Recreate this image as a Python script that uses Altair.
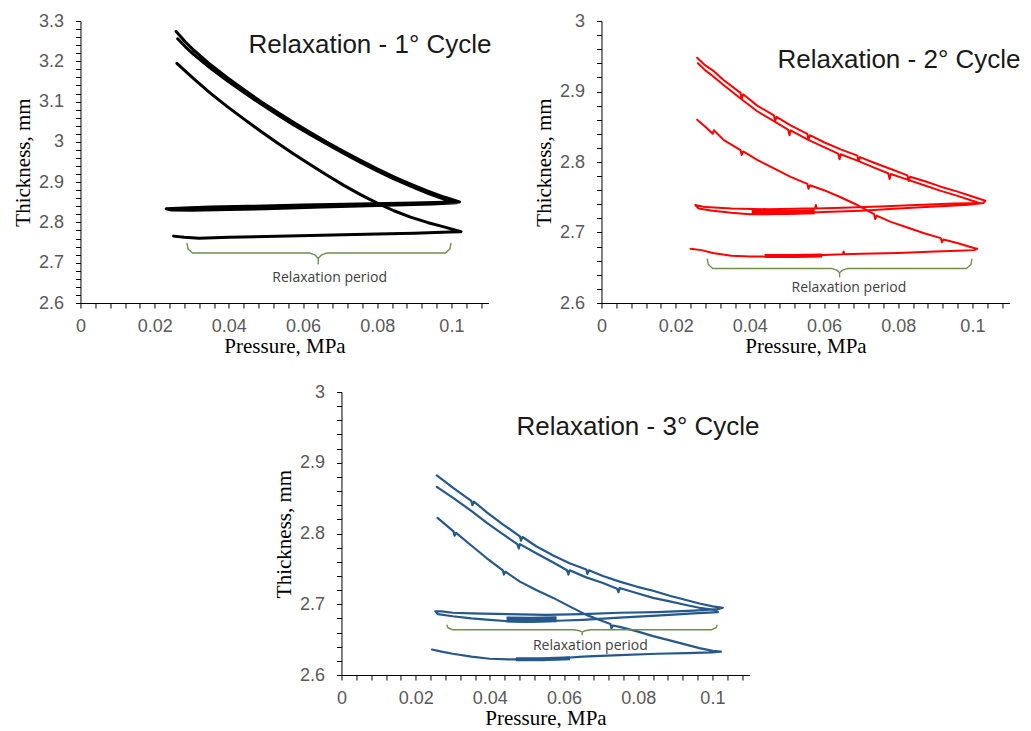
import altair as alt
import pandas as pd

# ---------------- data ----------------
# Cycle 1 (black)
C1_LOAD = [(0.0258, 3.274), (0.0283, 3.248), (0.0305, 3.228), (0.035, 3.192), (0.0395, 3.160),
           (0.044, 3.130), (0.0485, 3.101), (0.053, 3.074), (0.0575, 3.048), (0.062, 3.023),
           (0.0665, 2.999), (0.071, 2.976), (0.0755, 2.954), (0.080, 2.933), (0.0845, 2.913),
           (0.089, 2.895), (0.0935, 2.878), (0.098, 2.863), (0.1022, 2.851)]
C1_RELAX_A = [(0.098, 2.850), (0.090, 2.848), (0.075, 2.846), (0.060, 2.843), (0.045, 2.840),
              (0.035, 2.838), (0.028, 2.836), (0.0231, 2.834)]
C1_RELAX_B = [(0.0245, 2.831), (0.030, 2.830), (0.040, 2.832), (0.050, 2.834), (0.065, 2.838),
              (0.080, 2.842), (0.095, 2.846), (0.1015, 2.849)]
C1_UNLOAD = [(0.1004, 2.850), (0.098, 2.858), (0.0935, 2.873), (0.089, 2.890), (0.0845, 2.908),
             (0.080, 2.928), (0.0755, 2.949), (0.071, 2.971), (0.0665, 2.994), (0.062, 3.018),
             (0.0575, 3.042), (0.053, 3.068), (0.0485, 3.095), (0.044, 3.123), (0.0395, 3.152),
             (0.035, 3.183), (0.0305, 3.217), (0.0283, 3.236), (0.0262, 3.256)]
C1_RELOAD = [(0.026, 3.195), (0.0305, 3.157), (0.035, 3.121), (0.0395, 3.088), (0.044, 3.057),
             (0.0485, 3.027), (0.053, 2.998), (0.0575, 2.970), (0.062, 2.943), (0.0665, 2.917),
             (0.071, 2.892), (0.0755, 2.869), (0.080, 2.848), (0.0845, 2.829), (0.089, 2.813),
             (0.0935, 2.800), (0.098, 2.789), (0.1026, 2.777)]
C1_RELAX_LOW = [(0.0995, 2.776), (0.090, 2.773), (0.080, 2.771), (0.065, 2.768), (0.050, 2.765),
                (0.040, 2.763), (0.032, 2.761), (0.028, 2.763), (0.0251, 2.766)]

# Cycle 2 (red)
C2_LOAD = [(0.0258, 2.948), (0.028, 2.937), (0.030, 2.930), (0.033, 2.916), (0.0375, 2.898),
           (0.0378, 2.890), (0.0382, 2.896), (0.042, 2.880), (0.0465, 2.866), (0.0468, 2.858),
           (0.0472, 2.864), (0.051, 2.852), (0.0555, 2.840), (0.0558, 2.832), (0.0562, 2.838),
           (0.060, 2.828), (0.0645, 2.818), (0.069, 2.809), (0.0693, 2.801), (0.0697, 2.807),
           (0.0735, 2.799), (0.078, 2.790), (0.0825, 2.781), (0.0828, 2.773), (0.0832, 2.779),
           (0.087, 2.773), (0.0915, 2.765), (0.096, 2.758), (0.100, 2.751), (0.1035, 2.745)]
C2_RELAX_A = [(0.1030, 2.742), (0.095, 2.741), (0.085, 2.739), (0.075, 2.737), (0.065, 2.735),
              (0.058, 2.734), (0.0578, 2.739), (0.0576, 2.734), (0.055, 2.734), (0.045, 2.733),
              (0.035, 2.734), (0.028, 2.736), (0.0253, 2.739)]
C2_RELAX_B = [(0.0262, 2.734), (0.030, 2.731), (0.035, 2.728), (0.040, 2.726), (0.045, 2.726),
              (0.050, 2.727), (0.055, 2.728), (0.060, 2.729), (0.070, 2.731), (0.080, 2.734),
              (0.090, 2.737), (0.098, 2.739), (0.1025, 2.741)]
C2_UNLOAD = [(0.100, 2.745), (0.096, 2.752), (0.0915, 2.759), (0.087, 2.767), (0.0825, 2.775),
             (0.078, 2.783), (0.0777, 2.776), (0.0773, 2.784), (0.0735, 2.792), (0.069, 2.802),
             (0.0645, 2.811), (0.0642, 2.804), (0.0638, 2.812), (0.060, 2.821), (0.0555, 2.832),
             (0.051, 2.845), (0.0507, 2.838), (0.0503, 2.846), (0.0465, 2.858), (0.042, 2.872),
             (0.0375, 2.890), (0.033, 2.909), (0.030, 2.922), (0.028, 2.930), (0.026, 2.940)]
C2_RELOAD = [(0.0258, 2.860), (0.028, 2.850), (0.030, 2.840), (0.0303, 2.845), (0.033, 2.831),
             (0.0375, 2.817), (0.0378, 2.810), (0.0382, 2.815), (0.042, 2.803), (0.0465, 2.791),
             (0.051, 2.779), (0.0555, 2.769), (0.0558, 2.762), (0.0562, 2.767), (0.060, 2.760),
             (0.0645, 2.750), (0.069, 2.739), (0.0735, 2.726), (0.0738, 2.719), (0.0742, 2.724),
             (0.078, 2.715), (0.0825, 2.707), (0.087, 2.699), (0.0915, 2.692), (0.0918, 2.686),
             (0.0922, 2.690), (0.0959, 2.685), (0.1004, 2.678), (0.1013, 2.677)]
C2_RELAX_LOW = [(0.1005, 2.675), (0.096, 2.674), (0.090, 2.673), (0.080, 2.671), (0.070, 2.670),
                (0.0655, 2.669), (0.0653, 2.673), (0.0651, 2.669), (0.060, 2.668), (0.050, 2.667),
                (0.044, 2.666), (0.040, 2.666), (0.035, 2.667), (0.030, 2.671), (0.027, 2.675),
                (0.024, 2.677)]

# Cycle 3 (blue)
C3_LOAD = [(0.0257, 2.882), (0.0302, 2.864), (0.035, 2.846), (0.0353, 2.840), (0.0357, 2.845),
           (0.0392, 2.830), (0.0435, 2.813), (0.0481, 2.796), (0.0484, 2.790), (0.0488, 2.795),
           (0.0525, 2.782), (0.0571, 2.769), (0.0615, 2.758), (0.066, 2.749), (0.0663, 2.743),
           (0.0667, 2.748), (0.0705, 2.740), (0.075, 2.732), (0.0795, 2.725), (0.084, 2.719),
           (0.0885, 2.712), (0.0929, 2.706), (0.0965, 2.701), (0.1001, 2.697), (0.1028, 2.695)]
C3_RELAX_A = [(0.1015, 2.693), (0.095, 2.691), (0.085, 2.689), (0.075, 2.688), (0.065, 2.686),
              (0.055, 2.685), (0.045, 2.686), (0.035, 2.687), (0.030, 2.688), (0.027, 2.690),
              (0.0253, 2.690)]
C3_RELAX_B = [(0.026, 2.686), (0.030, 2.683), (0.035, 2.680), (0.040, 2.678), (0.045, 2.676),
              (0.050, 2.675), (0.055, 2.676), (0.060, 2.677), (0.065, 2.678), (0.075, 2.681),
              (0.085, 2.684), (0.095, 2.687), (0.1015, 2.689)]
C3_UNLOAD = [(0.1005, 2.692), (0.0965, 2.695), (0.0929, 2.699), (0.0885, 2.704), (0.084, 2.709),
             (0.0795, 2.716), (0.075, 2.723), (0.0747, 2.717), (0.0743, 2.722), (0.0705, 2.730),
             (0.066, 2.738), (0.0615, 2.748), (0.0612, 2.742), (0.0608, 2.748), (0.0571, 2.759),
             (0.0525, 2.772), (0.0481, 2.785), (0.0478, 2.779), (0.0474, 2.785), (0.0435, 2.799),
             (0.0392, 2.815), (0.035, 2.832), (0.0302, 2.850), (0.0257, 2.866)]
C3_RELOAD = [(0.0259, 2.822), (0.0302, 2.803), (0.0305, 2.797), (0.0309, 2.801), (0.035, 2.783),
             (0.0392, 2.765), (0.0435, 2.748), (0.0438, 2.742), (0.0442, 2.746), (0.0481, 2.732),
             (0.0525, 2.720), (0.0571, 2.709), (0.0615, 2.697), (0.066, 2.685), (0.0705, 2.676),
             (0.0725, 2.672), (0.0728, 2.666), (0.0732, 2.670), (0.075, 2.668), (0.0795, 2.662),
             (0.084, 2.655), (0.0885, 2.649), (0.0929, 2.643), (0.0965, 2.638), (0.1001, 2.634),
             (0.1023, 2.633)]
C3_RELAX_LOW = [(0.100, 2.632), (0.093, 2.631), (0.085, 2.630), (0.075, 2.628), (0.065, 2.626),
                (0.060, 2.624), (0.055, 2.623), (0.050, 2.622), (0.045, 2.622), (0.040, 2.623),
                (0.035, 2.626), (0.030, 2.630), (0.027, 2.633), (0.0244, 2.636)]

# dense (noisy) stretches of the relaxation records, which read as thick bands
DENSE = {
    2: [([(0.0405, 2.7285), (0.050, 2.7285), (0.0575, 2.7295)], 5.0),
        ([(0.044, 2.6668), (0.052, 2.6668), (0.0595, 2.6675)], 4.0)],
    3: [([(0.0445, 2.6785), (0.051, 2.678), (0.058, 2.6788)], 6.0),
        ([(0.047, 2.6223), (0.054, 2.6223), (0.0616, 2.6235)], 4.0)],
}

# "Relaxation period" braces: start, end, centre (MPa); top, line, tip (mm)
BRACE_X = {1: (0.0287, 0.0999, 0.0641), 2: (0.0285, 0.0999, 0.0642), 3: (0.0284, 0.1013, 0.0649)}
BRACE_Y = {1: (2.749, 2.724, 2.697), 2: (2.663, 2.649, 2.637), 3: (2.671, 2.664, 2.657)}
NOTE_POS = {1: (0.0672, 2.661), 2: (0.0667, 2.621), 3: (0.0671, 2.641)}
NOTE_TEXT = "Relaxation period"

TITLES = {1: "Relaxation - 1° Cycle", 2: "Relaxation - 2° Cycle", 3: "Relaxation - 3° Cycle"}
Y_DOMAINS = {1: (2.6, 3.3), 2: (2.6, 3.0), 3: (2.6, 3.0)}
X_TICKS = [round(0.004 * i, 3) for i in range(28)]

COLORS = {1: "#000000", 2: "#ff0000", 3: "#25588b"}
WIDTHS = {1: 3.0, 2: 2.0, 3: 2.2}
TITLE_POS = {1: (168, 24), 2: (176, 39), 3: (175, 35)}
HEIGHTS = {1: 282, 2: 282, 3: 283}
GREEN = "#6f8f4f"

SEGMENTS = {
    1: [[C1_LOAD, C1_RELAX_A, C1_RELAX_B, C1_UNLOAD], [C1_RELOAD, C1_RELAX_LOW]],
    2: [[C2_LOAD, C2_RELAX_A, C2_RELAX_B, C2_UNLOAD], [C2_RELOAD, C2_RELAX_LOW]],
    3: [[C3_LOAD, C3_RELAX_A, C3_RELAX_B, C3_UNLOAD], [C3_RELOAD, C3_RELAX_LOW]],
}


def curve_frame(k):
    rows = []
    for s, pieces in enumerate(SEGMENTS[k]):
        i = 0
        for piece in pieces:
            for x, y in piece:
                rows.append({"p": x, "t": y, "seg": s, "i": i})
                i += 1
    return pd.DataFrame(rows)


def dense_frame(k):
    rows = []
    for s, (pts, w) in enumerate(DENSE.get(k, [])):
        for i, (x, y) in enumerate(pts):
            rows.append({"p": x, "t": y, "seg": s, "i": i, "w": w})
    return pd.DataFrame(rows)


def brace_frame(k):
    x1, x2, c = BRACE_X[k]
    top, mid, tip = BRACE_Y[k]
    d = mid - tip
    h = top - mid
    pts = [(x1, top), (x1 + 0.0003, mid + 0.4 * h), (x1 + 0.0015, mid),
           (c - 0.0022, mid), (c - 0.0008, mid - 0.2 * d), (c, mid - 0.5 * d), (c, tip),
           (c, mid - 0.5 * d), (c + 0.0008, mid - 0.2 * d), (c + 0.0022, mid),
           (x2 - 0.0015, mid), (x2 - 0.0003, mid + 0.4 * h), (x2, top)]
    return pd.DataFrame([{"p": x, "t": y, "i": i} for i, (x, y) in enumerate(pts)])


def panel(k):
    lo, hi = Y_DOMAINS[k]
    n = int(round((hi - lo) / 0.02))
    y_ticks = [round(lo + 0.02 * i, 2) for i in range(n + 1)]
    x_enc = alt.X("p:Q", title="Pressure, MPa",
                  scale=alt.Scale(domain=[0, 0.11], nice=False, zero=False),
                  axis=alt.Axis(values=X_TICKS, labelFlush=False, labelOverlap=False,
                                labelExpr="abs(datum.value*50 - round(datum.value*50)) < 0.001 ? format(datum.value, '~g') : ''",
                                labelPadding=9, titlePadding=0))
    y_enc = alt.Y("t:Q", title="Thickness, mm",
                  scale=alt.Scale(domain=[lo, hi], nice=False, zero=False),
                  axis=alt.Axis(values=y_ticks, labelFlush=False, labelOverlap=False,
                                labelExpr="abs(datum.value*10 - round(datum.value*10)) < 0.001 ? format(datum.value, '~g') : ''",
                                labelPadding=12, titlePadding=5))
    layers = []
    layers.append(alt.Chart(curve_frame(k)).mark_line(
        color=COLORS[k], strokeWidth=WIDTHS[k], strokeJoin="round", strokeCap="round"
    ).encode(x=x_enc, y=y_enc, detail="seg:N", order="i:Q"))
    if k in DENSE:
        layers.append(alt.Chart(dense_frame(k)).mark_line(
            color=COLORS[k], strokeCap="butt", strokeJoin="round"
        ).encode(x=x_enc, y=y_enc, detail="seg:N", order="i:Q",
                 strokeWidth=alt.StrokeWidth("w:Q", scale=None, legend=None)))
    layers.append(alt.Chart(brace_frame(k)).mark_line(
        color=GREEN, strokeWidth=1.4, strokeJoin="round"
    ).encode(x=x_enc, y=y_enc, order="i:Q"))
    nx, ny = NOTE_POS[k]
    layers.append(alt.Chart(pd.DataFrame([{"p": nx, "t": ny, "label": NOTE_TEXT}])).mark_text(
        font="Open Sans", fontSize=14, color="#404040", align="center", baseline="middle"
    ).encode(x=x_enc, y=y_enc, text="label:N"))
    tx, ty = TITLE_POS[k]
    layers.append(alt.Chart(pd.DataFrame([{"label": TITLES[k]}])).mark_text(
        font="Liberation Sans", fontSize=26, color="#1a1a1a", align="left", baseline="middle"
    ).encode(x=alt.value(tx), y=alt.value(ty), text="label:N"))
    return alt.layer(*layers).properties(width=408, height=HEIGHTS[k])


top_row = alt.hconcat(panel(1), panel(2), spacing=40)
chart = alt.vconcat(top_row, panel(3), spacing=27, center=True).properties(
    padding={"left": 4, "top": 4, "right": 0, "bottom": 0}
).configure_view(
    stroke=None
).configure_axis(
    grid=False, domainColor="#000000", tickColor="#000000", domainWidth=1, tickWidth=1,
    tickSize=5, labelFont="Liberation Sans", labelFontSize=18, labelColor="#595959",
    titleFont="Liberation Serif", titleFontSize=21, titleFontWeight="normal", titleColor="#000000"
)

chart.save("out.html", embed_options={"renderer": "svg", "actions": False})
